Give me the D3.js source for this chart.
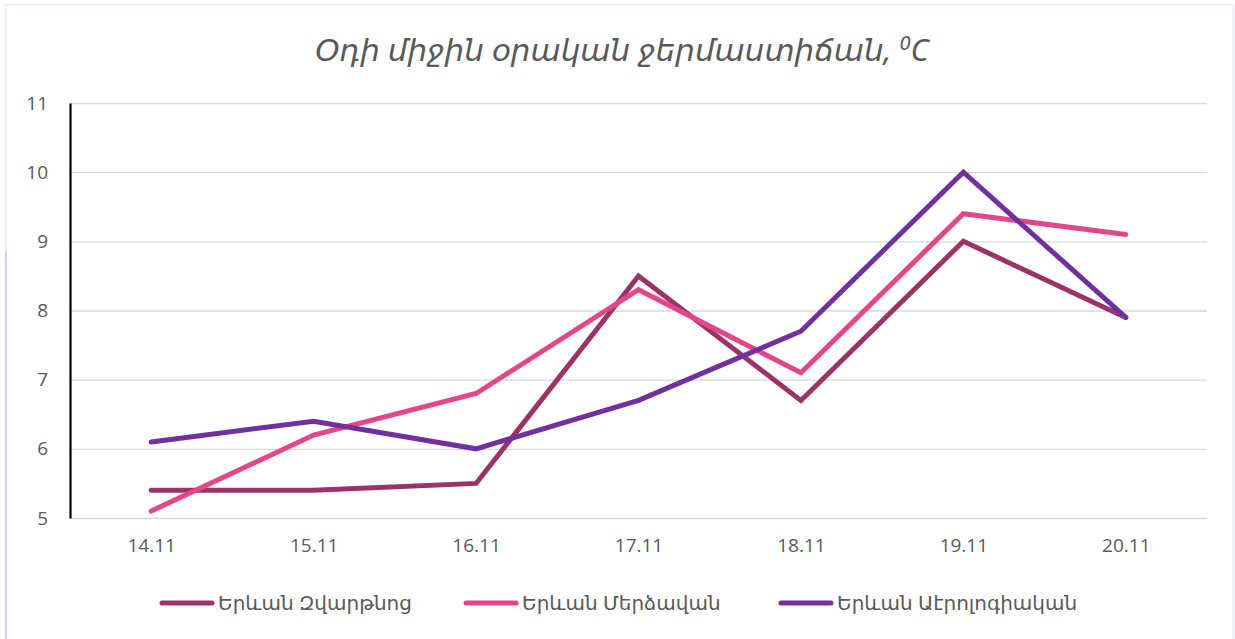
<!DOCTYPE html>
<html><head><meta charset="utf-8">
<script src="https://cdn.jsdelivr.net/npm/d3@7"></script>
<style>html,body{margin:0;padding:0;background:#fff;}svg{display:block;}</style>
</head><body>
<svg id="c" width="1235" height="639"></svg>
<script>
const categories = ["14.11","15.11","16.11","17.11","18.11","19.11","20.11"];
const seriesNames = ["Երևան Զվարթնոց","Երևան Մերձավան","Երևան Աէրոլոգիական"];
const zvartnots = [5.4,5.4,5.5,8.5,6.7,9.0,7.9];
const merdzavan = [5.1,6.2,6.8,8.3,7.1,9.4,9.1];
const aerolog = [6.1,6.4,6.0,6.7,7.7,10.0,7.9];
const yTicks = [5,6,7,8,9,10,11];
const colors = ["#9B3368","#E4468A","#7030A0"];
const title = "Օդի միջին օրական ջերմաստիճան, ";

const svg = d3.select("#c");
// frame
svg.append("rect").attr("x",5.5).attr("y",4.5).attr("width",1228).attr("height",640)
  .attr("fill","none").attr("stroke","#e3ebf5").attr("stroke-width",1.5);
svg.append("line").attr("x1",6).attr("x2",6).attr("y1",250).attr("y2",639)
  .attr("stroke","#c9d8ec").attr("stroke-width",2);

const L=70,R=1207,T=103,B=518;
const x = d3.scalePoint().domain(categories).range([L,R]).padding(0.5);
const y = d3.scaleLinear().domain([5,11]).range([B,T]);

// gridlines
svg.append("g").selectAll("line").data(yTicks).join("line")
  .attr("x1",L).attr("x2",R).attr("y1",d=>y(d)+0.5).attr("y2",d=>y(d)+0.5)
  .attr("stroke","#d9d9d9").attr("stroke-width",1.3);

const tickFont = "'Open Sans', 'Noto Sans', sans-serif";
// y axis
const ya = svg.append("g").attr("transform",`translate(${L},0)`)
  .call(d3.axisLeft(y).tickValues(yTicks).tickSize(0).tickPadding(22).tickFormat(d3.format("d")));
ya.select(".domain").attr("stroke","#000").attr("stroke-width",2.2);
ya.selectAll("text").attr("font-family",tickFont).attr("font-size",19).attr("fill","#595959");

// x axis labels
const xa = svg.append("g").attr("transform",`translate(0,${B})`)
  .call(d3.axisBottom(x).tickSize(0).tickPadding(21));
xa.select(".domain").remove();
xa.selectAll("text").attr("font-family",tickFont).attr("font-size",19).attr("fill","#595959");

// lines
const data = [zvartnots, merdzavan, aerolog];
const line = d3.line().x((d,i)=>x(categories[i])).y(d=>y(d));
svg.append("g").selectAll("path").data(data).join("path")
  .attr("d",line).attr("fill","none")
  .attr("stroke",(d,i)=>colors[i]).attr("stroke-width",5)
  .attr("stroke-linecap","round").attr("stroke-linejoin","miter");

// title
const t = svg.append("text").attr("x",622).attr("y",61).attr("text-anchor","middle")
  .attr("font-family","'Noto Sans', 'DejaVu Sans', sans-serif").attr("font-style","italic")
  .attr("font-size",31).attr("fill","#595959");
t.append("tspan").text(title);
t.append("tspan").text("0").attr("font-size",20).attr("dy",-11);
t.append("tspan").text("C").attr("dy",11);

// legend
const legX = [162, 466, 781];
const lg = svg.append("g").selectAll("g").data(seriesNames).join("g")
  .attr("transform",(d,i)=>`translate(${legX[i]},603)`);
lg.append("line").attr("x1",0).attr("x2",50).attr("y1",0).attr("y2",0)
  .attr("stroke",(d,i)=>colors[i]).attr("stroke-width",5).attr("stroke-linecap","round");
lg.append("text").attr("x",56).attr("y",7).text(d=>d)
  .attr("font-family","'Noto Sans', 'DejaVu Sans', sans-serif").attr("font-size",20).attr("fill","#595959");
</script>
</body></html>
